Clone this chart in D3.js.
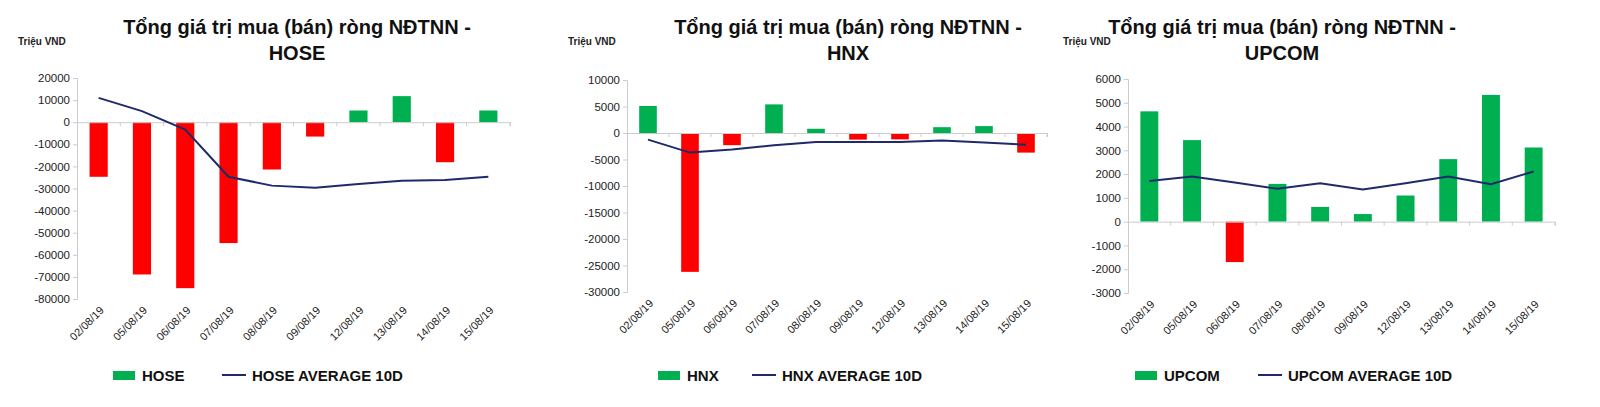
<!DOCTYPE html>
<html><head><meta charset="utf-8">
<script src="https://cdn.jsdelivr.net/npm/d3@7"></script>
<style>body{margin:0;background:#fff}svg{font-family:Arial,"Liberation Sans",sans-serif}</style>
</head><body><svg id="c" width="1600" height="407"></svg>
<script>
const dates = ["02/08/19","05/08/19","06/08/19","07/08/19","08/08/19","09/08/19","12/08/19","13/08/19","14/08/19","15/08/19"];
const hoseValues = [-24700,-68900,-75100,-54700,-21400,-6500,5300,11800,-18100,5300];
const hoseAvg = [11000,5000,-3300,-24700,-28700,-29700,-28000,-26500,-26200,-24700];
const hnxValues = [5100,-26200,-2300,5400,800,-1250,-1200,1100,1300,-3700];
const hnxAvg = [-1250,-3700,-3100,-2300,-1700,-1700,-1700,-1400,-1800,-2200];
const upcomValues = [4640,3430,-1700,1590,620,320,1100,2630,5330,3120];
const upcomAvg = [1710,1900,1650,1380,1620,1350,1620,1900,1575,2110];
const hoseTicks = [20000,10000,0,-10000,-20000,-30000,-40000,-50000,-60000,-70000,-80000];
const hnxTicks = [10000,5000,0,-5000,-10000,-15000,-20000,-25000,-30000];
const upcomTicks = [6000,5000,4000,3000,2000,1000,0,-1000,-2000,-3000];

const svg = d3.select("#c");
function panel(o){
  const g = svg.append("g");
  const x = d3.scaleBand().domain(dates).range([o.x0,o.x1]).paddingInner(0.58).paddingOuter(0.29);
  const y = d3.scaleLinear().domain([o.ticks[o.ticks.length-1],o.ticks[0]]).range([o.yb,o.yt]);
  const t = g.append("text").attr("text-anchor","middle").attr("font-weight","bold").attr("font-size",20).attr("fill","#111");
  t.append("tspan").attr("x",o.tx).attr("y",34).text("Tổng giá trị mua (bán) ròng NĐTNN -");
  t.append("tspan").attr("x",o.tx).attr("y",60).text(o.name);
  g.append("text").attr("x",o.ux).attr("y",45).attr("font-size",10).attr("font-weight","bold").attr("fill","#222").text("Triệu VND");
  const ya = g.append("g").attr("transform",`translate(${o.x0},0)`).call(d3.axisLeft(y).tickValues(o.ticks).tickSize(4).tickFormat(d=>String(d)));
  ya.select(".domain").attr("stroke","#ccc");
  ya.selectAll(".tick line").attr("stroke","#ccc");
  ya.selectAll("text").attr("font-size",11.5).attr("fill","#222");
  g.selectAll("rect.b").data(o.vals).join("rect").attr("class","b")
    .attr("x",(d,i)=>x(dates[i])).attr("width",x.bandwidth())
    .attr("y",d=>y(Math.max(0,d))).attr("height",d=>Math.abs(y(d)-y(0)))
    .attr("fill",d=>d>=0?"#00b050":"#ff0000");
  const xa = g.append("g").attr("transform",`translate(0,${y(0)})`).call(d3.axisBottom(x).tickSize(4).tickFormat(""));
  xa.select(".domain").attr("stroke","#ccc");
  xa.selectAll(".tick line").attr("stroke","#ccc").attr("transform",`translate(${x.step()/2},0)`);
  g.selectAll("text.d").data(dates).join("text").attr("class","d")
    .attr("transform",d=>`translate(${x(d)+x.bandwidth()/2+6},${o.yb+12}) rotate(-45)`)
    .attr("text-anchor","end").attr("font-size",11).attr("fill","#222").text(d=>d);
  const line = d3.line().x((d,i)=>x(dates[i])+x.bandwidth()/2).y(d=>y(d));
  g.append("path").datum(o.avg).attr("d",line).attr("fill","none").attr("stroke","#1f2a6b").attr("stroke-width",2);
  const lg = g.append("g").attr("font-size",15).attr("font-weight","bold").attr("fill","#111");
  lg.append("rect").attr("x",o.lx).attr("y",371).attr("width",22).attr("height",9).attr("fill","#00b050");
  lg.append("text").attr("x",o.lx+29).attr("y",381).text(o.name);
  lg.append("line").attr("x1",o.lx2).attr("x2",o.lx2+24).attr("y1",375).attr("y2",375).attr("stroke","#1f2a6b").attr("stroke-width",2);
  lg.append("text").attr("x",o.lx2+30).attr("y",381).text(o.name+" AVERAGE 10D");
}
panel({name:"HOSE",x0:77,x1:510,yt:78,yb:299,ticks:hoseTicks,vals:hoseValues,avg:hoseAvg,tx:297,ux:18,lx:113,lx2:222});
panel({name:"HNX",x0:627,x1:1047,yt:80,yb:292,ticks:hnxTicks,vals:hnxValues,avg:hnxAvg,tx:848,ux:568,lx:658,lx2:752});
panel({name:"UPCOM",x0:1128,x1:1555,yt:79,yb:293,ticks:upcomTicks,vals:upcomValues,avg:upcomAvg,tx:1282,ux:1063,lx:1135,lx2:1258});
</script></body></html>
